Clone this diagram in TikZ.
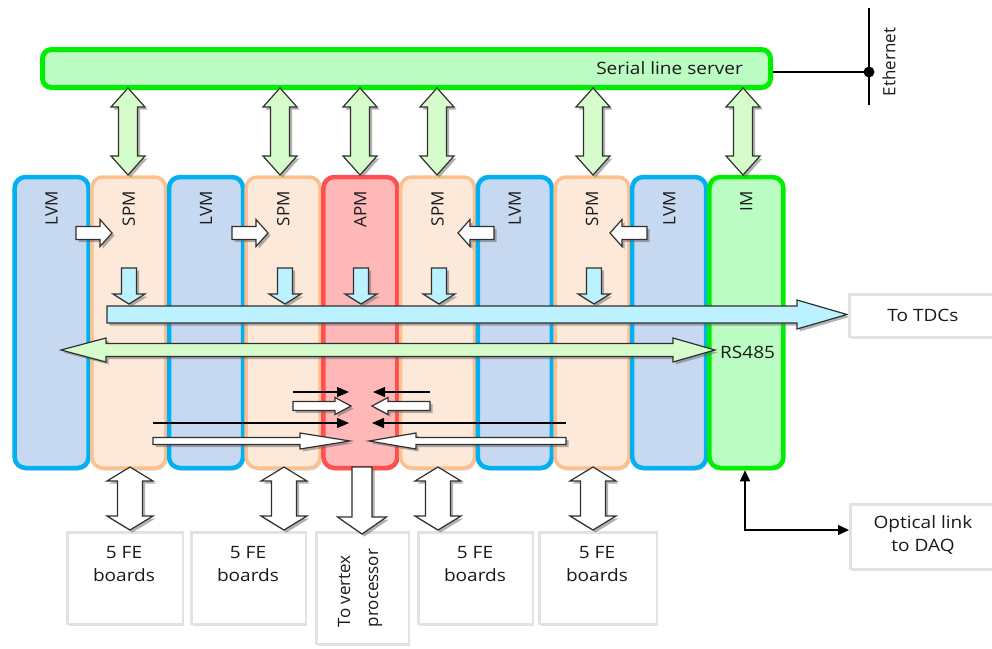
\documentclass[tikz,border=0pt]{standalone}
\usepackage{fontspec}
\setmainfont{Open Sans}[FakeStretch=1.12]
\newfontfamily\rotfont{Open Sans}
\usetikzlibrary{arrows.meta,shadows}
\definecolor{slsfill}{HTML}{BAFCC2}
\definecolor{slsline}{HTML}{00EE00}
\definecolor{lvmfill}{HTML}{C6D9F1}
\definecolor{lvmline}{HTML}{00B0F0}
\definecolor{spmfill}{HTML}{FDE9D9}
\definecolor{spmline}{HTML}{FAC090}
\definecolor{apmfill}{HTML}{FFB8B8}
\definecolor{apmline}{HTML}{FF5050}
\definecolor{garrfill}{HTML}{D6FCCC}
\definecolor{barrfill}{HTML}{BCF1FF}
\definecolor{arrline}{HTML}{303030}
\definecolor{textc}{HTML}{1A1A1A}
\definecolor{boxline}{HTML}{E2E2E2}
% vertical double block arrow: style, cx, ytop, ybot, shaft half, head half, head length
\newcommand{\BlkVD}[7]{\path[#1] (#2,#3) -- (#2+#6,#3+#7) -- (#2+#5,#3+#7) -- (#2+#5,#4-#7) -- (#2+#6,#4-#7) -- (#2,#4) -- (#2-#6,#4-#7) -- (#2-#5,#4-#7) -- (#2-#5,#3+#7) -- (#2-#6,#3+#7) -- cycle;}
% vertical single block arrow: style, cx, ytail, ybase, ytip, shaft half, head half
\newcommand{\BlkVS}[7]{\path[#1] (#2-#6,#3) -- (#2+#6,#3) -- (#2+#6,#4) -- (#2+#7,#4) -- (#2,#5) -- (#2-#7,#4) -- (#2-#6,#4) -- cycle;}
% horizontal single block arrow: style, xtail, xbase, xtip, y, shaft half, head half
\newcommand{\BlkHS}[7]{\path[#1] (#2,#5-#6) -- (#3,#5-#6) -- (#3,#5-#7) -- (#4,#5) -- (#3,#5+#7) -- (#3,#5+#6) -- (#2,#5+#6) -- cycle;}
% horizontal double block arrow: style, tip1, base1, base2, tip2, y, shaft half, head half
\newcommand{\BlkHD}[8]{\path[#1] (#2,#6) -- (#3,#6-#8) -- (#3,#6-#7) -- (#4,#6-#7) -- (#4,#6-#8) -- (#5,#6) -- (#4,#6+#8) -- (#4,#6+#7) -- (#3,#6+#7) -- (#3,#6+#8) -- cycle;}
\begin{document}
\begin{tikzpicture}[x=1pt,y=-1pt,
  txt/.style={font=\fontsize{17}{23}\selectfont, text=textc, inner sep=0pt},
  rtxt/.style={font=\rotfont\fontsize{17}{28}\selectfont, text=textc, inner sep=0pt, rotate=90},
  mod/.style={rounded corners=11pt, minimum width=74pt, minimum height=291pt, inner sep=0pt,
    drop shadow={shadow xshift=1.5pt, shadow yshift=-2.5pt, fill=black!28}},
  lvm/.style={fill=lvmfill, draw=lvmline, line width=4.5pt},
  spm/.style={fill=spmfill, draw=spmline, line width=3.5pt},
  apm/.style={fill=apmfill, draw=apmline, line width=4.5pt},
  imm/.style={fill=slsfill, draw=slsline, line width=4.5pt},
  blk/.style={draw=arrline, line width=1.2pt, line join=miter,
    drop shadow={shadow xshift=2.5pt, shadow yshift=-2.5pt, fill=black!60}},
  garr/.style={blk, fill=garrfill},
  barr/.style={blk, fill=barrfill},
  warr/.style={blk, fill=white},
  box/.style={draw=boxline, line width=2.5pt, fill=white, inner sep=0pt,
    drop shadow={shadow xshift=1.5pt, shadow yshift=-2pt, fill=black!25}},
  thinarr/.style={draw=black, line width=1.1pt, -{Triangle[length=12pt,width=10pt]}},
  optarr/.style={draw=black, line width=1.4pt, {Triangle[length=11pt,width=10pt]}-{Triangle[length=11pt,width=10pt]}}
]
\useasboundingbox (0,0) rectangle (992,648);

% modules
\foreach \i/\nm/\lab/\st in {0/lvm1/LVM/lvm, 1/spm1/SPM/spm, 2/lvm2/LVM/lvm, 3/spm2/SPM/spm, 4/apm/APM/apm, 5/spm3/SPM/spm, 6/lvm3/LVM/lvm, 7/spm4/SPM/spm, 8/lvm4/LVM/lvm, 9/im/IM/imm}{
  \node[mod,\st] (\nm) at ({13+77.2*\i+38.6},322.5) {};
  \node[rtxt, anchor=east] (\nm-lab) at ({13+77.2*\i+38.6},191) {\lab};
}

% serial line server
\node[fill=slsfill, draw=slsline, line width=5pt, rounded corners=9pt, minimum width=728pt, minimum height=38pt, inner sep=0pt] (sls) at (406.5,68.5) {};
\node[txt, anchor=east] (sls-lab) at (743,68) {Serial line server};

% ethernet
\coordinate (ethtop) at (869,8);
\coordinate (ethbot) at (869,105);
\coordinate (ethdot) at (869,72);
\draw[line width=2.6pt] (ethtop) -- (ethbot);
\draw[line width=2.6pt] (sls.east |- ethdot) -- (ethdot);
\fill (ethdot) circle (5.5pt);
\node[rtxt] (eth) at (889,62) {Ethernet};

% green double arrows SLS <-> modules
\foreach \cx in {128,280,360,437,593,743}{
  \BlkVD{garr}{\cx}{88}{175}{9.5}{17}{19}
}

% small white arrows LVM -> SPM
\BlkHS{warr}{76}{100}{112}{233}{6.5}{13.5}
\BlkHS{warr}{232}{256}{268}{233}{6.5}{13.5}
\BlkHS{warr}{494}{470}{458}{233}{6.5}{13.5}
\BlkHS{warr}{647}{622}{610}{233}{6.5}{13.5}

% small blue down arrows
\foreach \cx in {129,285,361,439,594}{
  \BlkVS{barr}{\cx}{268}{294}{304}{7.5}{16}
}

% big blue arrow to TDCs
\BlkHS{barr}{107}{797}{847}{314.5}{8.5}{14.5}

% RS485 double arrow
\BlkHD{garr}{61}{106}{673}{715}{350}{6.5}{12}
\node[txt, anchor=west] (rs) at (720,352) {RS485};

% converging arrows to APM
\draw[thinarr] (293,392) -- (349,392);
\draw[thinarr] (430,392) -- (373,392);
\BlkHS{warr}{293}{335}{351}{406}{4.5}{8.5}
\BlkHS{warr}{430}{388}{372}{406}{4.5}{8.5}
\draw[thinarr] (153,423) -- (349,423);
\draw[thinarr] (566,423) -- (372,423);
\BlkHS{warr}{153}{300}{350}{441}{3.5}{8}
\BlkHS{warr}{566}{416}{369}{441}{3.5}{8}

% TDC box
\node[box, minimum width=145pt, minimum height=42.5pt] (tdc) at (922,315.5) {};
\node[txt] (tdc-lab) at (923,315) {To TDCs};

% bottom boxes
\node[box, minimum width=115.5pt, minimum height=91.5pt] (fe1) at (125,578) {};
\node[box, minimum width=114.5pt, minimum height=91.5pt] (fe2) at (248.5,578) {};
\node[box, minimum width=92.5pt, minimum height=111.5pt] (vtx) at (362.5,588) {};
\node[box, minimum width=114.5pt, minimum height=91.5pt] (fe3) at (475.5,578) {};
\node[box, minimum width=117.5pt, minimum height=91.5pt] (fe4) at (598,578) {};
\node[txt, align=center, anchor=north] (fe1-lab) at (124,546) {5 FE\\boards};
\node[txt, align=center, anchor=north] (fe2-lab) at (248,546) {5 FE\\boards};
\node[txt, align=center, anchor=north] (fe3-lab) at (475,546) {5 FE\\boards};
\node[txt, align=center, anchor=north] (fe4-lab) at (597,546) {5 FE\\boards};
\node[rtxt, align=left] (vtx-lab) at (360,588) {To vertex\\processor};

% bottom arrows
\foreach \cx in {130,284,438,593}{
  \BlkVD{warr}{\cx}{467}{530}{12.5}{23}{14}
}
\BlkVS{warr}{362}{467}{517}{534}{10}{24.5}

% optical link
\node[box, minimum width=143.5pt, minimum height=64.5pt] (daq) at (922,536.5) {};
\node[txt, align=center] (daq-lab) at (923,535) {Optical link\\to DAQ};
\coordinate (daqcorner) at (745,530);
\draw[optarr] (im.south -| daqcorner) -- (daqcorner) -- (daq.west |- daqcorner);
\end{tikzpicture}
\end{document}
